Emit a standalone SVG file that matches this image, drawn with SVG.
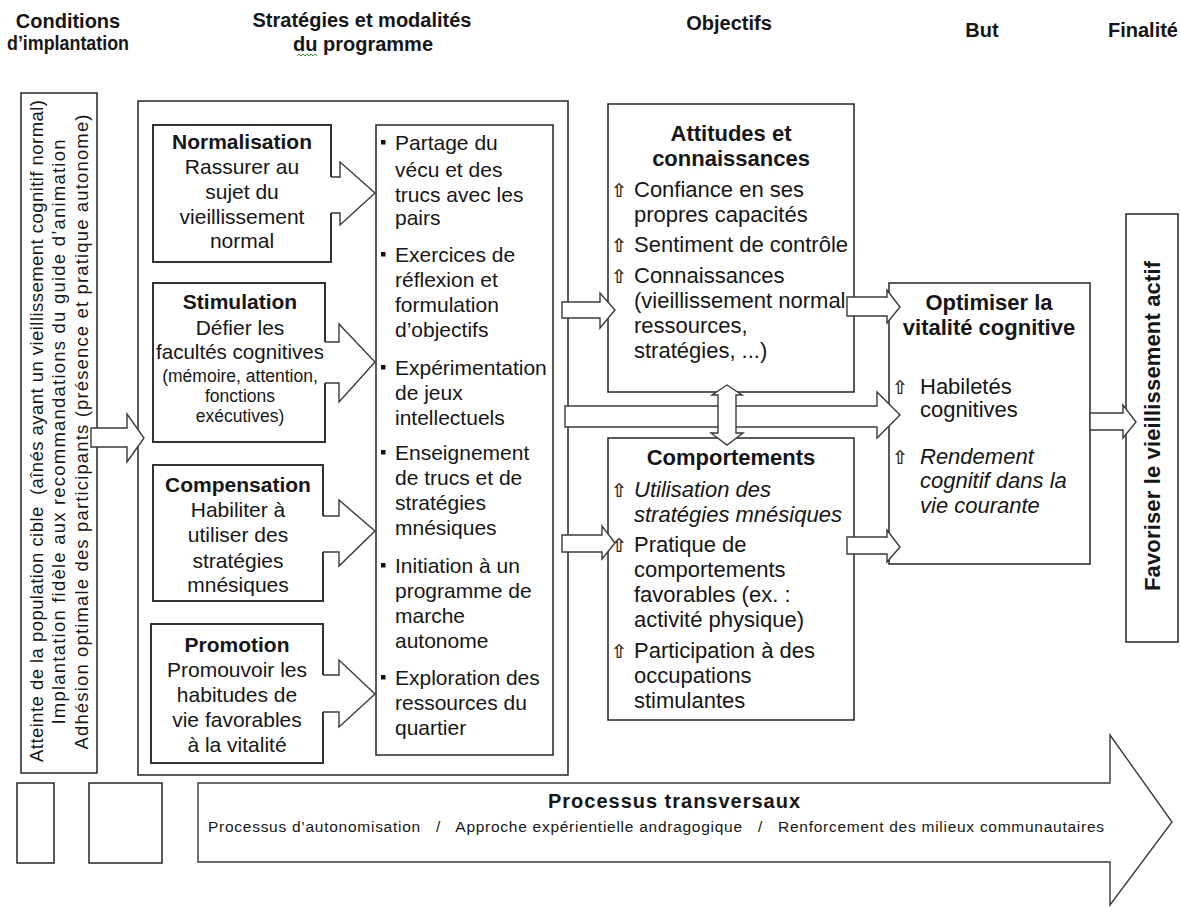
<svg xmlns="http://www.w3.org/2000/svg" width="1181" height="907" viewBox="0 0 1181 907">
<style>
.t{font-family:"Liberation Sans",Arial,sans-serif;fill:#161616}
.h{font-size:20px;font-weight:bold}
.s{font-size:21px}
.o{font-size:22px}
.sm{font-size:17.5px}
.b{font-weight:bold}
.i{font-style:italic}
.m{text-anchor:middle}
.v{font-size:18.5px}
.box{fill:#fff;stroke:#262626;stroke-width:1.5}
.sbox{fill:#fff;stroke:#333;stroke-width:2}
.arr{fill:#fff;stroke:#3a3a3a;stroke-width:1.4}
.afill{fill:#fff;stroke:none}
.aline{fill:none;stroke:#3a3a3a;stroke-width:1.4}
.up{font-family:"DejaVu Sans",sans-serif;font-size:19px;font-weight:bold;fill:#3a2a14}
.bul{fill:#111}
</style>
<rect width="1181" height="907" fill="#fff"/>

<g id="headers">
<text class="t h m" x="68" y="28">Conditions</text>
<text class="t h m" x="68" y="50" textLength="122" lengthAdjust="spacingAndGlyphs">d’implantation</text>
<text class="t h m" x="362" y="27">Stratégies et modalités</text>
<text class="t h m" x="363" y="51">du programme</text>
<path d="M297,56 l2,-2 l2,2 l2,-2 l2,2 l2,-2 l2,2 l2,-2 l2,2 l2,-2 l2,2" fill="none" stroke="#3c9a3c" stroke-width="1"/>
<text class="t h m" x="729" y="30">Objectifs</text>
<text class="t h m" x="982" y="37">But</text>
<text class="t h" x="1178" y="37" text-anchor="end">Finalité</text>
</g>

<g id="conditions">
<rect class="box" x="21" y="93" width="76" height="680"/>
<text class="t v m" transform="translate(43,431) rotate(-90)" textLength="662" lengthAdjust="spacing" xml:space="preserve">Atteinte de la population cible  (aînés ayant un vieillissement cognitif normal)</text>
<text class="t v m" transform="translate(65,432) rotate(-90)" textLength="585" lengthAdjust="spacing">Implantation fidèle aux recommandations du guide d’animation</text>
<text class="t v m" transform="translate(88,432) rotate(-90)" textLength="635" lengthAdjust="spacing">Adhésion optimale des participants (présence et pratique autonome)</text>
</g>

<g id="strategies">
<rect class="box" x="138" y="101" width="430" height="674"/>
</g>

<g id="normalisation">
<rect class="sbox" x="153" y="125" width="178" height="137"/>
<text class="t s b m" x="242" y="149">Normalisation</text>
<text class="t s m" x="242" y="174">Rassurer au</text>
<text class="t s m" x="242" y="199">sujet du</text>
<text class="t s m" x="242" y="224">vieillissement</text>
<text class="t s m" x="242" y="248">normal</text>
</g>

<g id="stimulation">
<rect class="sbox" x="153" y="283" width="172" height="159"/>
<text class="t s b m" x="240" y="309">Stimulation</text>
<text class="t s m" x="240" y="335">Défier les</text>
<text class="t s m" x="240" y="359" textLength="168" lengthAdjust="spacingAndGlyphs">facultés cognitives</text>
<text class="t sm m" x="240" y="382">(mémoire, attention,</text>
<text class="t sm m" x="240" y="402">fonctions</text>
<text class="t sm m" x="240" y="422">exécutives)</text>
</g>

<g id="compensation">
<rect class="sbox" x="153" y="465" width="170" height="136"/>
<text class="t s b m" x="238" y="492">Compensation</text>
<text class="t s m" x="238" y="517">Habiliter à</text>
<text class="t s m" x="238" y="542">utiliser des</text>
<text class="t s m" x="238" y="568">stratégies</text>
<text class="t s m" x="238" y="592">mnésiques</text>
</g>

<g id="promotion">
<rect class="sbox" x="151" y="624" width="172" height="139"/>
<text class="t s b m" x="237" y="652">Promotion</text>
<text class="t s m" x="237" y="677">Promouvoir les</text>
<text class="t s m" x="237" y="702">habitudes de</text>
<text class="t s m" x="237" y="727">vie favorables</text>
<text class="t s m" x="237" y="752">à la vitalité</text>
</g>

<g id="modalites">
<rect class="box" x="376" y="125" width="177" height="630"/>
<rect class="bul" x="381" y="140" width="4.5" height="4.5"/>
<text class="t s" x="395" y="150">Partage du</text>
<text class="t s" x="395" y="177">vécu et des</text>
<text class="t s" x="395" y="202">trucs avec les</text>
<text class="t s" x="395" y="225">pairs</text>
<rect class="bul" x="381" y="252" width="4.5" height="4.5"/>
<text class="t s" x="395" y="262">Exercices de</text>
<text class="t s" x="395" y="287">réflexion et</text>
<text class="t s" x="395" y="312">formulation</text>
<text class="t s" x="395" y="337">d’objectifs</text>
<rect class="bul" x="381" y="365" width="4.5" height="4.5"/>
<text class="t s" x="395" y="375">Expérimentation</text>
<text class="t s" x="395" y="400">de jeux</text>
<text class="t s" x="395" y="425">intellectuels</text>
<rect class="bul" x="381" y="450" width="4.5" height="4.5"/>
<text class="t s" x="395" y="460">Enseignement</text>
<text class="t s" x="395" y="485">de trucs et de</text>
<text class="t s" x="395" y="510">stratégies</text>
<text class="t s" x="395" y="535">mnésiques</text>
<rect class="bul" x="381" y="563" width="4.5" height="4.5"/>
<text class="t s" x="395" y="573">Initiation à un</text>
<text class="t s" x="395" y="598">programme de</text>
<text class="t s" x="395" y="623">marche</text>
<text class="t s" x="395" y="648">autonome</text>
<rect class="bul" x="381" y="675" width="4.5" height="4.5"/>
<text class="t s" x="395" y="685">Exploration des</text>
<text class="t s" x="395" y="710">ressources du</text>
<text class="t s" x="395" y="735">quartier</text>
</g>

<g id="attitudes">
<rect class="box" x="608" y="104" width="246" height="288"/>
<text class="t o b m" x="731" y="141">Attitudes et</text>
<text class="t o b m" x="731" y="166">connaissances</text>
<text class="up" x="611" y="197">⇧</text>
<text class="t o" x="634" y="197">Confiance en ses</text>
<text class="t o" x="634" y="222">propres capacités</text>
<text class="up" x="611" y="252">⇧</text>
<text class="t o" x="634" y="252">Sentiment de contrôle</text>
<text class="up" x="611" y="283">⇧</text>
<text class="t o" x="634" y="283">Connaissances</text>
<text class="t o" x="634" y="308">(vieillissement normal,</text>
<text class="t o" x="634" y="333">ressources,</text>
<text class="t o" x="634" y="358">stratégies, ...)</text>
</g>

<g id="comportements">
<rect class="box" x="608" y="438" width="246" height="282"/>
<text class="t o b m" x="731" y="465">Comportements</text>
<text class="up" x="611" y="497">⇧</text>
<text class="t o i" x="634" y="497">Utilisation des</text>
<text class="t o i" x="634" y="522">stratégies mnésiques</text>
<text class="up" x="611" y="552">⇧</text>
<text class="t o" x="634" y="552">Pratique de</text>
<text class="t o" x="634" y="577">comportements</text>
<text class="t o" x="634" y="602">favorables (ex. :</text>
<text class="t o" x="634" y="627">activité physique)</text>
<text class="up" x="611" y="658">⇧</text>
<text class="t o" x="634" y="658">Participation à des</text>
<text class="t o" x="634" y="683">occupations</text>
<text class="t o" x="634" y="708">stimulantes</text>
</g>

<g id="optimiser">
<rect class="box" x="889" y="283" width="201" height="281"/>
<text class="t o b m" x="989" y="310">Optimiser la</text>
<text class="t o b m" x="989" y="335">vitalité cognitive</text>
<text class="up" x="892" y="394">⇧</text>
<text class="t o" x="920" y="394">Habiletés</text>
<text class="t o" x="920" y="417">cognitives</text>
<text class="up" x="892" y="464">⇧</text>
<text class="t o i" x="920" y="464">Rendement</text>
<text class="t o i" x="920" y="488">cognitif dans la</text>
<text class="t o i" x="920" y="513">vie courante</text>
</g>

<g id="favoriser">
<rect class="box" x="1126" y="214" width="52" height="428"/>
<text class="t o b m" transform="translate(1160,426) rotate(-90)" textLength="330" lengthAdjust="spacing">Favoriser le vieillissement actif</text>
</g>

<g id="box-a">
<rect class="box" x="17" y="783" width="37" height="80"/>
</g>
<g id="box-b">
<rect class="box" x="89" y="783" width="73" height="80"/>
</g>

<g id="connectors">
<polygon class="arr" points="91,428 127,428 127,414 144,438 127,462 127,447 91,447"/>

<polygon class="afill" points="329.5,177 340,177 340,162 375,193 340,225 340,213 329.5,213"/>
<polyline class="aline" points="331,177 340,177 340,162 375,193 340,225 340,213 331,213"/>
<polygon class="afill" points="323.5,342 339,342 339,324 375,362 339,402 339,383 323.5,383"/>
<polyline class="aline" points="325,342 339,342 339,324 375,362 339,402 339,383 325,383"/>
<polygon class="afill" points="321.5,516 339,516 339,500 375,531 339,566 339,552 321.5,552"/>
<polyline class="aline" points="323,516 339,516 339,500 375,531 339,566 339,552 323,552"/>
<polygon class="afill" points="321.5,675 339,675 339,660 375,694 339,727 339,712 321.5,712"/>
<polyline class="aline" points="323,675 339,675 339,660 375,694 339,727 339,712 323,712"/>

<polygon class="arr" points="562,302 600,302 600,293 615,310 600,328 600,318 562,318"/>
<polygon class="arr" points="562,535 602,535 602,526 615,543 602,559 602,552 562,552"/>
<polygon class="arr" points="565,406 877,406 877,392 900,415 877,438 877,427 565,427"/>
<polygon class="arr" points="727,385 742,395 736,395 736,433 743,433 727,445 711,433 718,433 718,395 712,395"/>
<polygon class="arr" points="847,297 887,297 887,290 900,307 887,323 887,316 847,316"/>
<polygon class="arr" points="847,537 887,537 887,530 900,547 887,562 887,554 847,554"/>
<polygon class="arr" points="1090,413 1123,413 1123,405 1136,422 1123,438 1123,430 1090,430"/>

<polygon class="arr" points="198,783 1110,783 1110,735 1172,822 1110,905 1110,862 198,862"/>
</g>

<g id="transversaux">
<text class="t b m" x="674" y="808" font-size="20" textLength="252" lengthAdjust="spacing">Processus transversaux</text>
<text class="t" x="208" y="832" font-size="15.5" textLength="896" lengthAdjust="spacing" xml:space="preserve">Processus d’autonomisation   /   Approche expérientielle andragogique   /   Renforcement des milieux communautaires</text>
</g>
</svg>
